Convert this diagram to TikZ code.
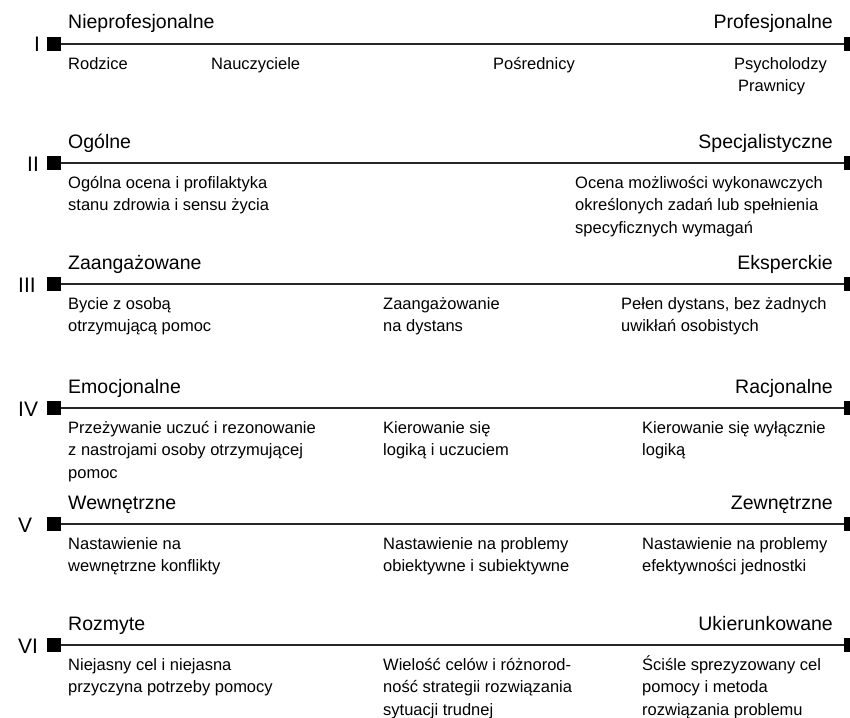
\documentclass[tikz,border=0pt]{standalone}
\usepackage{fontspec}
\setmainfont{Liberation Sans}
% several lines, aligned left, baseline at the first line
\newcommand{\lines}[1]{\begin{tabular}[t]{@{}l@{}}#1\end{tabular}}
\begin{document}
\begin{tikzpicture}[x=1pt,y=-1pt,
  endsq/.style={fill=black,minimum size=14pt,inner sep=0pt,outer sep=0pt},
  axis/.style={line width=1.7pt,draw=black!85},
  pole/.style={font=\fontsize{19.5}{22}\selectfont,inner sep=0pt},
  desc/.style={font=\fontsize{16.5}{22.5}\selectfont,inner sep=0pt,anchor=base west},
  numeral/.style={font=\fontsize{21}{24}\selectfont,inner sep=0pt,anchor=base west}]
\useasboundingbox (0,0) rectangle (850,717);

% ---- I ----
\node[numeral] (n1) at (34,52) {I};
\node[endsq] (a1) at (54,44) {};
\node[endsq] (b1) at (851,44) {};
\draw[axis] (a1) -- (b1);
\node[pole,anchor=base west] (p1l) at (68,29) {Nieprofesjonalne};
\node[pole,anchor=base east] (p1r) at (833,29) {Profesjonalne};
\node[desc] (d1a) at (68,69) {Rodzice};
\node[desc] (d1b) at (211,69) {Nauczyciele};
\node[desc] (d1c) at (493,69) {Pośrednicy};
\node[desc] (d1d) at (734,69) {\lines{Psycholodzy\\\hspace{4pt}Prawnicy}};

% ---- II ----
\node[numeral] (n2) at (27,171) {II};
\node[endsq] (a2) at (54,163) {};
\node[endsq] (b2) at (851,163) {};
\draw[axis] (a2) -- (b2);
\node[pole,anchor=base west] (p2l) at (68,148) {Ogólne};
\node[pole,anchor=base east] (p2r) at (833,148) {Specjalistyczne};
\node[desc] (d2a) at (68,188) {\lines{Ogólna ocena i profilaktyka\\stanu zdrowia i sensu życia}};
\node[desc] (d2c) at (575,188) {\lines{Ocena możliwości wykonawczych\\określonych zadań lub spełnienia\\specyficznych wymagań}};

% ---- III ----
\node[numeral] (n3) at (18,292) {III};
\node[endsq] (a3) at (54,284) {};
\node[endsq] (b3) at (851,284) {};
\draw[axis] (a3) -- (b3);
\node[pole,anchor=base west] (p3l) at (68,269) {Zaangażowane};
\node[pole,anchor=base east] (p3r) at (833,269) {Eksperckie};
\node[desc] (d3a) at (68,309) {\lines{Bycie z osobą\\otrzymującą pomoc}};
\node[desc] (d3b) at (383,309) {\lines{Zaangażowanie\\na dystans}};
\node[desc] (d3c) at (621,309) {\lines{Pełen dystans, bez żadnych\\uwikłań osobistych}};

% ---- IV ----
\node[numeral] (n4) at (18,416) {IV};
\node[endsq] (a4) at (54,408) {};
\node[endsq] (b4) at (851,408) {};
\draw[axis] (a4) -- (b4);
\node[pole,anchor=base west] (p4l) at (68,393) {Emocjonalne};
\node[pole,anchor=base east] (p4r) at (833,393) {Racjonalne};
\node[desc] (d4a) at (68,433) {\lines{Przeżywanie uczuć i rezonowanie\\z nastrojami osoby otrzymującej\\pomoc}};
\node[desc] (d4b) at (383,433) {\lines{Kierowanie się\\logiką i uczuciem}};
\node[desc] (d4c) at (642,433) {\lines{Kierowanie się wyłącznie\\logiką}};

% ---- V ----
\node[numeral] (n5) at (18,532) {V};
\node[endsq] (a5) at (54,524) {};
\node[endsq] (b5) at (851,524) {};
\draw[axis] (a5) -- (b5);
\node[pole,anchor=base west] (p5l) at (68,509) {Wewnętrzne};
\node[pole,anchor=base east] (p5r) at (833,509) {Zewnętrzne};
\node[desc] (d5a) at (68,549) {\lines{Nastawienie na\\wewnętrzne konflikty}};
\node[desc] (d5b) at (383,549) {\lines{Nastawienie na problemy\\obiektywne i subiektywne}};
\node[desc] (d5c) at (642,549) {\lines{Nastawienie na problemy\\efektywności jednostki}};

% ---- VI ----
\node[numeral] (n6) at (18,653) {VI};
\node[endsq] (a6) at (54,645) {};
\node[endsq] (b6) at (851,645) {};
\draw[axis] (a6) -- (b6);
\node[pole,anchor=base west] (p6l) at (68,630) {Rozmyte};
\node[pole,anchor=base east] (p6r) at (833,630) {Ukierunkowane};
\node[desc] (d6a) at (68,670) {\lines{Niejasny cel i niejasna\\przyczyna potrzeby pomocy}};
\node[desc] (d6b) at (383,670) {\lines{Wielość celów i różnorod-\\ność strategii rozwiązania\\sytuacji trudnej}};
\node[desc] (d6c) at (642,670) {\lines{Ściśle sprezyzowany cel\\pomocy i metoda\\rozwiązania problemu}};
\end{tikzpicture}
\end{document}
